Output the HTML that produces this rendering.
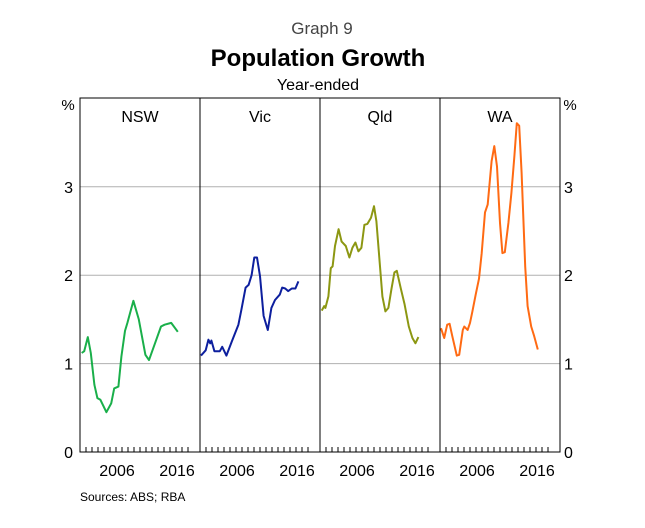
<!DOCTYPE html>
<html><head><meta charset="utf-8"><style>
html,body{margin:0;padding:0;background:#fff}
svg text{font-family:"Liberation Sans",Arial,sans-serif}
</style></head><body>
<svg id="chart" width="645" height="523" viewBox="0 0 645 523" xmlns="http://www.w3.org/2000/svg">
<text x="322" y="34" text-anchor="middle" font-size="17" fill="#444">Graph 9</text>
<text x="318" y="66" text-anchor="middle" font-size="24" font-weight="bold" fill="#000">Population Growth</text>
<text x="318" y="90" text-anchor="middle" font-size="16" fill="#000">Year-ended</text>
<text x="68" y="110" text-anchor="middle" font-size="15">%</text>
<text x="570" y="110" text-anchor="middle" font-size="15">%</text>
<text x="80" y="501" font-size="12">Sources:   ABS; RBA</text>
<g id="grid"></g><g id="series"></g><g id="frame"></g>
</svg>
<script>
const panels=["NSW","Vic","Qld","WA"];
const colors=["#1aaf4a","#0d1f9e","#8c9712","#ff6a13"];
const yTicks=[0,1,2,3];
const xLabels=[2006,2016];
const nswT=[2000.28,2000.7,2001.3,2001.8,2002.4,2002.9,2003.4,2004.4,2005.2,2005.7,2006.4,2006.9,2007.5,2007.9,2008.9,2009.8,2010.9,2011.5,2012.5,2013.5,2014.1,2015.2,2016.3];
const nswV=[1.12,1.14,1.30,1.12,0.76,0.61,0.59,0.45,0.55,0.72,0.74,1.08,1.37,1.46,1.71,1.50,1.10,1.04,1.23,1.42,1.44,1.46,1.36];
const vicT=[2000.17,2000.95,2001.4,2001.7,2001.9,2002.4,2003.3,2003.7,2004.4,2005.3,2006.4,2006.9,2007.6,2008.1,2008.6,2009.05,2009.5,2010,2010.6,2011.3,2011.9,2012.5,2013.3,2013.7,2014.2,2014.7,2015.3,2015.9,2016.4];
const vicV=[1.09,1.15,1.27,1.23,1.26,1.14,1.14,1.19,1.09,1.25,1.44,1.61,1.86,1.89,2.00,2.20,2.20,1.99,1.54,1.38,1.63,1.72,1.78,1.86,1.85,1.82,1.85,1.85,1.93];
const qldT=[2000.28,2000.7,2000.9,2001.4,2001.8,2002.1,2002.5,2003.1,2003.6,2004.3,2004.9,2005.4,2005.9,2006.4,2006.9,2007.4,2007.9,2008.5,2009,2009.4,2010,2010.4,2010.9,2011.4,2011.9,2012.4,2012.8,2013.5,2014.1,2014.8,2015.4,2015.9,2016.4];
const qldV=[1.60,1.65,1.63,1.76,2.08,2.10,2.33,2.52,2.38,2.33,2.20,2.31,2.37,2.27,2.31,2.57,2.58,2.65,2.78,2.61,2.10,1.76,1.59,1.63,1.84,2.03,2.05,1.84,1.67,1.42,1.29,1.23,1.30];
const waT=[2000.17,2000.7,2001.2,2001.6,2002.05,2002.8,2003.2,2003.8,2004.05,2004.6,2005,2005.4,2005.95,2006.5,2006.95,2007.5,2007.95,2008.6,2009.05,2009.5,2010,2010.4,2010.8,2011.4,2011.9,2012.4,2012.8,2013.2,2013.6,2014.2,2014.6,2015.2,2015.7,2016.3];
const waV=[1.40,1.29,1.44,1.45,1.31,1.09,1.10,1.38,1.42,1.38,1.46,1.59,1.78,1.96,2.25,2.71,2.80,3.29,3.46,3.23,2.59,2.25,2.26,2.59,2.93,3.35,3.72,3.69,3.16,2.10,1.65,1.42,1.31,1.16];
const seriesT=[nswT,vicT,qldT,waT];
const seriesV=[nswV,vicV,qldV,waV];

const NS="http://www.w3.org/2000/svg";
const L=80,R=560,T=98,B=452,PW=120;
const yScale=v=>B-v*88.4;
const xScale=(p,t)=>L+p*PW+(t-2000)*6;
function mk(tag,attrs,parent){const e=document.createElementNS(NS,tag);for(const k in attrs)e.setAttribute(k,attrs[k]);parent.appendChild(e);return e;}
const grid=document.getElementById('grid'),ser=document.getElementById('series'),frame=document.getElementById('frame');
yTicks.forEach(v=>{
  if(v>0){const g=mk('line',{x1:L,x2:R,y1:yScale(v),y2:yScale(v),stroke:'#b0b0b0','stroke-width':1},grid);
  
  }
  const tl=mk('text',{x:L-7,y:yScale(v)+6,'text-anchor':'end','font-size':16},grid);tl.textContent=v;
  
  
  const tr=mk('text',{x:R+4,y:yScale(v)+6,'text-anchor':'start','font-size':16},grid);tr.textContent=v;
  
  
});
panels.forEach((name,p)=>{
  const pt=mk('text',{x:L+p*PW+60,y:122,'text-anchor':'middle','font-size':16},frame);pt.textContent=name;
  
  
  for(let y=2001;y<=2018;y++){const tk=mk('line',{x1:xScale(p,y),x2:xScale(p,y),y1:B,y2:B-5,stroke:'#000','stroke-width':1},frame);
    
    }
  xLabels.forEach(y=>{const xl=mk('text',{x:xScale(p,y)+1,y:B+24,'text-anchor':'middle','font-size':16},frame);xl.textContent=y;
    
    });
  if(p>0){const d=mk('line',{x1:L+p*PW,x2:L+p*PW,y1:T,y2:B,stroke:'#000','stroke-width':1},frame);
    
    }
  const ts=seriesT[p],vs=seriesV[p];
  const d=ts.map((t,i)=>(i?'L':'M')+xScale(p,t).toFixed(1)+','+yScale(vs[i]).toFixed(1)).join(' ');
  const path=mk('path',{d:d,fill:'none',stroke:colors[p],'stroke-width':2,'stroke-linejoin':'round'},ser);
  
  
});
const box=mk('rect',{x:L,y:T,width:R-L,height:B-T,fill:'none',stroke:'#000','stroke-width':1},frame);


</script>
</body></html>
